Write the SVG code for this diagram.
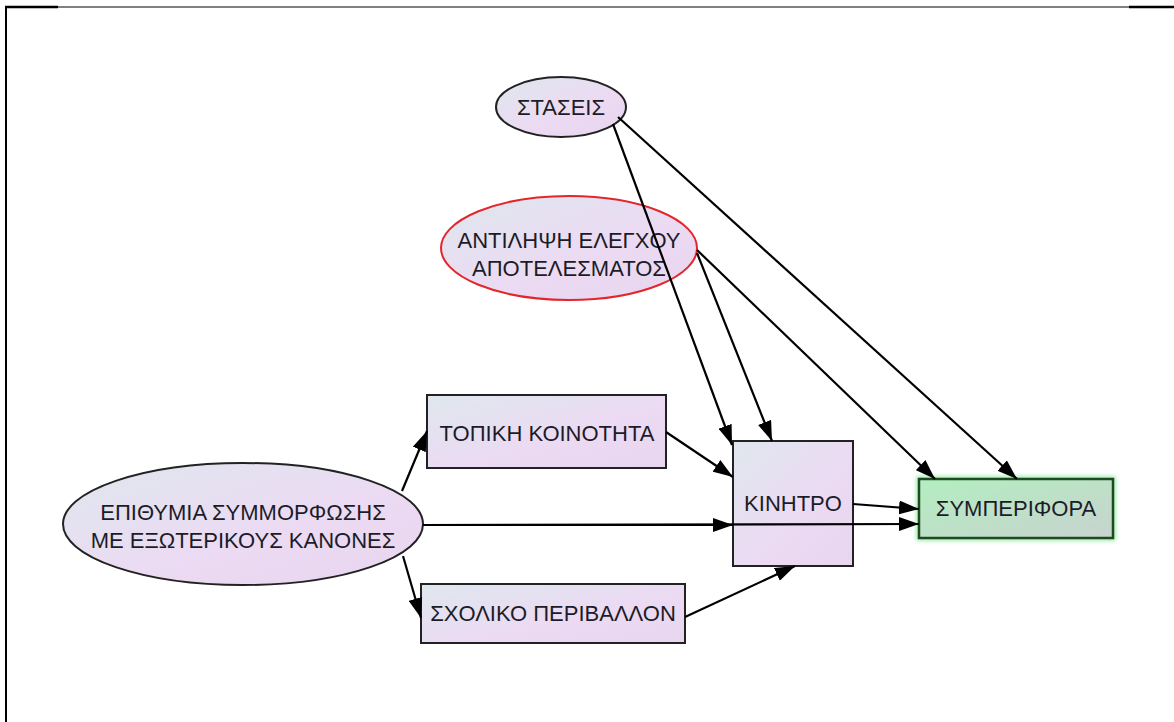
<svg xmlns="http://www.w3.org/2000/svg" width="1174" height="722" viewBox="0 0 1174 722">
<defs>
<linearGradient id="g" x1="0" y1="0" x2="1" y2="1">
<stop offset="0" stop-color="#dfe7ee"/>
<stop offset="0.6" stop-color="#ecdaf3"/>
<stop offset="1" stop-color="#e8d6f0"/>
</linearGradient>
<linearGradient id="gg" x1="0" y1="0" x2="1" y2="1">
<stop offset="0" stop-color="#b3eec0"/>
<stop offset="1" stop-color="#c8d3cf"/>
</linearGradient>
<marker id="a" viewBox="0 0 20 14" refX="20" refY="7" markerWidth="20" markerHeight="14" markerUnits="userSpaceOnUse" orient="auto">
<path d="M0,0 L20,7 L0,14 Z" fill="#000"/>
</marker>
<filter id="glow" x="-10%" y="-20%" width="120%" height="140%">
<feGaussianBlur stdDeviation="2"/>
</filter>
</defs>
<style>
.n{fill:url(#g);stroke:#222;stroke-width:2}
.t{font-family:"Liberation Sans",Arial,sans-serif;font-size:22px;fill:#1c1c28;text-anchor:middle}
.e{stroke:#000;stroke-width:2.2;fill:none;marker-end:url(#a)}
</style>
<g id="frame">
<line x1="5" y1="7" x2="1174" y2="7" stroke="#000" stroke-width="1"/>
<line x1="5" y1="7" x2="58" y2="7" stroke="#000" stroke-width="2.5"/>
<line x1="1129" y1="7" x2="1174" y2="7" stroke="#000" stroke-width="2.5"/>
<line x1="6" y1="6" x2="6" y2="722" stroke="#000" stroke-width="2"/>
</g>
<g id="n-stasis">
<ellipse class="n" cx="561" cy="107" rx="65" ry="30"/>
<text class="t" x="561" y="115">ΣΤΑΣΕΙΣ</text>
</g>
<g id="n-antilipsi">
<ellipse class="n" cx="569" cy="248" rx="128" ry="52" style="stroke:#e3262b"/>
<text class="t" x="569" y="248">ΑΝΤΙΛΗΨΗ ΕΛΕΓΧΟΥ</text>
<text class="t" x="569" y="276">ΑΠΟΤΕΛΕΣΜΑΤΟΣ</text>
</g>
<g id="n-topiki">
<rect class="n" x="427" y="395" width="239" height="73"/>
<text class="t" x="547" y="441">ΤΟΠΙΚΗ ΚΟΙΝΟΤΗΤΑ</text>
</g>
<g id="n-epithymia">
<ellipse class="n" cx="243" cy="524" rx="180" ry="61"/>
<text class="t" x="243" y="520">ΕΠΙΘΥΜΙΑ ΣΥΜΜΟΡΦΩΣΗΣ</text>
<text class="t" x="243" y="548">ΜΕ ΕΞΩΤΕΡΙΚΟΥΣ ΚΑΝΟΝΕΣ</text>
</g>
<g id="n-sxoliko">
<rect class="n" x="421" y="584" width="264" height="59"/>
<text class="t" x="553" y="621">ΣΧΟΛΙΚΟ ΠΕΡΙΒΑΛΛΟΝ</text>
</g>
<g id="n-kinitro">
<rect class="n" x="733" y="441" width="120" height="125"/>
<text class="t" x="793" y="511">ΚΙΝΗΤΡΟ</text>
</g>
<g id="n-symperifora">
<rect x="919" y="479" width="194" height="59" fill="none" stroke="#8fe89f" stroke-width="5" filter="url(#glow)"/>
<rect x="919" y="479" width="194" height="59" fill="url(#gg)" stroke="#1d4a1f" stroke-width="2.5"/>
<text class="t" x="1016" y="516">ΣΥΜΠΕΡΙΦΟΡΑ</text>
</g>
<g id="edges">
<line class="e" x1="402" y1="491" x2="427" y2="431"/>
<line class="e" x1="403" y1="556" x2="421" y2="618"/>
<line class="e" x1="423" y1="525" x2="733" y2="525"/>
<line class="e" x1="423" y1="525" x2="919" y2="524"/>
<line class="e" x1="853" y1="504" x2="919" y2="509"/>
<line class="e" x1="666" y1="432" x2="733" y2="477"/>
<line class="e" x1="685" y1="617" x2="795" y2="566"/>
<line class="e" x1="613" y1="124" x2="732" y2="445"/>
<line class="e" x1="697" y1="253" x2="772" y2="441"/>
<line class="e" x1="697" y1="250" x2="935" y2="479"/>
<line class="e" x1="618" y1="117" x2="1017" y2="479"/>
</g>
</svg>
